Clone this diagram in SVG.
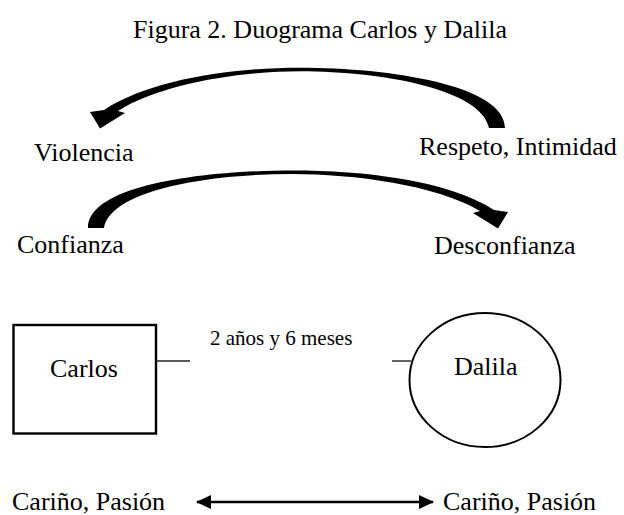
<svg xmlns="http://www.w3.org/2000/svg" width="624" height="515" viewBox="0 0 624 515">
<defs>
<style>
text{font-family:"Liberation Serif","Times New Roman",serif;fill:#000}
.lbl{font-size:26px}
.sm{font-size:21px}
.arc{fill:#000;stroke:none}
.ln{stroke:#222;stroke-width:1.4;fill:none}
.node{fill:#fff;stroke:#000}
</style>
<marker id="ah" viewBox="0 0 15 14" refX="14" refY="7" markerWidth="15" markerHeight="14" markerUnits="userSpaceOnUse" orient="auto-start-reverse">
<path d="M0,0 L15,7 L0,14 Z" fill="#000"/>
</marker>
</defs>
<rect width="624" height="515" fill="#fff"/>
<text x="320" y="38" class="lbl" text-anchor="middle">Figura 2. Duograma Carlos y Dalila</text>
<g id="connectors">
<path id="arc-top" class="arc" d="M505,128 C505,85 390,67.7 300,67.7 C230,67.7 150,80 104,110 L90,112 L100,128.5 L125,113 L118,111 C160,84 240,71.2 300,71.2 C385,71.2 482,90 489,128 Z"/>
<path id="arc-bottom" class="arc" d="M88,228 C88,185 203,170.5 293,170.5 C363,170.5 448,180 494,210 L508,212 L498,228.5 L473,213 L480,211 C437,185 353,174 293,174 C208,174 111,190 104,228 Z"/>
<line class="ln" x1="156" y1="361" x2="190" y2="361"/>
<line class="ln" x1="392" y1="361" x2="411" y2="361"/>
<line x1="197" y1="502" x2="433" y2="502" stroke="#000" stroke-width="2.5" marker-start="url(#ah)" marker-end="url(#ah)"/>
</g>
<g id="violencia"><text x="34" y="161" class="lbl">Violencia</text></g>
<g id="respeto"><text x="419" y="155" class="lbl">Respeto, Intimidad</text></g>
<g id="confianza"><text x="17" y="253" class="lbl">Confianza</text></g>
<g id="desconfianza"><text x="434" y="254" class="lbl">Desconfianza</text></g>
<g id="carlos">
<rect class="node" x="13.5" y="325" width="142.5" height="108.5" stroke-width="2.4"/>
<text x="50" y="377" class="lbl">Carlos</text>
</g>
<g id="duracion"><text x="210" y="345" class="sm">2 años y 6 meses</text></g>
<g id="dalila">
<ellipse class="node" cx="485" cy="380" rx="75.5" ry="67" stroke-width="2"/>
<text x="454" y="375" class="lbl">Dalila</text>
</g>
<g id="carino-carlos"><text x="12" y="510" class="lbl">Cariño, Pasión</text></g>
<g id="carino-dalila"><text x="443" y="510" class="lbl">Cariño, Pasión</text></g>
</svg>
